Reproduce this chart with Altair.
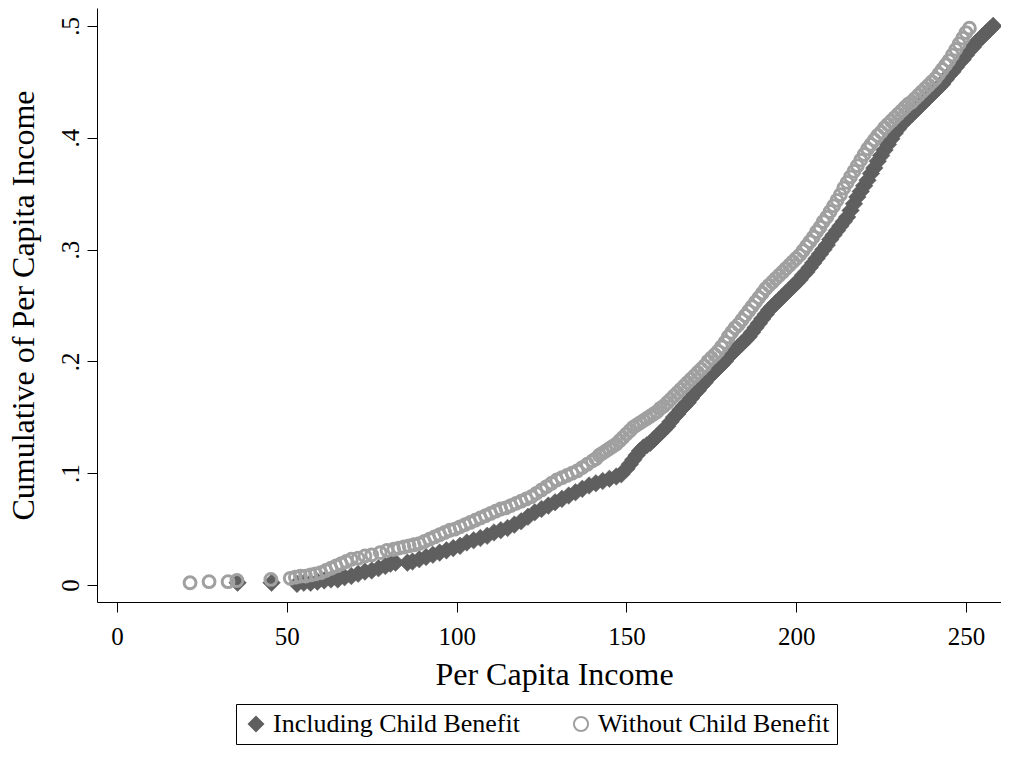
import altair as alt
import pandas as pd

SERIES = ["Including Child Benefit", "Without Child Benefit"]

incl_x = [35.5, 45.5,
          53.0, 55.0, 57.0, 59.0, 61.0, 63.0, 65.0, 67.0, 69.0, 71.0, 73.0, 75.0, 77.0, 79.0, 80.5, 82.0,
          85.5, 87.0, 89.0, 91.0, 93.0, 95.0, 97.0, 99.0, 101.0, 103.0, 105.0, 107.0, 109.0, 111.0, 113.0,
          115.0, 117.0, 119.0, 121.0, 123.0, 125.0, 127.0, 129.0, 131.0, 133.0, 135.0, 137.0, 139.0, 141.0,
          143.0, 145.0, 147.0, 148.5, 150.0, 151.0, 152.0, 153.0, 154.0, 155.0, 156.0, 157.0, 158.0, 159.0,
          160.0, 161.0, 162.0, 163.0, 164.0, 165.0, 166.0, 167.0, 168.0, 169.0, 170.0, 171.0, 172.0, 173.0,
          174.0, 175.0, 176.0, 177.0, 178.0, 179.0, 180.0, 181.0, 182.0, 183.0, 184.0, 185.0, 186.0, 187.0,
          188.0, 189.0, 190.0, 191.0, 192.0, 193.0, 194.0, 195.0, 196.0, 197.0, 198.0, 199.0, 200.0, 201.0,
          202.0, 203.0, 204.0, 205.0, 206.0, 207.0, 208.0, 209.0, 210.0, 211.0, 212.0, 213.0, 214.0, 215.0,
          216.0, 217.0, 218.0, 219.0, 220.0, 221.0, 222.0, 223.0, 224.0, 225.0, 226.0, 227.0, 228.0, 229.0,
          230.0, 231.0, 232.0, 233.0, 234.0, 235.0, 236.0, 237.0, 238.0, 239.0, 240.0, 241.0, 242.0, 243.0,
          244.0, 245.0, 246.0, 247.0, 248.0, 249.0, 250.0, 251.0, 252.0, 253.0, 254.0, 255.0, 256.0, 257.0,
          258.0]
incl_y = [0.002, 0.002,
          0.001, 0.002, 0.002, 0.003, 0.004, 0.005, 0.005, 0.007, 0.008, 0.010, 0.012, 0.013, 0.015, 0.017, 0.019, 0.020,
          0.020, 0.021, 0.023, 0.025, 0.027, 0.029, 0.031, 0.033, 0.035, 0.038, 0.040, 0.042, 0.044, 0.047, 0.049,
          0.051, 0.054, 0.057, 0.061, 0.065, 0.068, 0.071, 0.074, 0.077, 0.080, 0.083, 0.086, 0.089, 0.091,
          0.093, 0.095, 0.097, 0.099, 0.104, 0.108, 0.112, 0.116, 0.120, 0.123, 0.125, 0.127, 0.130, 0.133,
          0.136, 0.139, 0.142, 0.146, 0.150, 0.153, 0.157, 0.160, 0.163, 0.167, 0.171, 0.174, 0.178, 0.181,
          0.185, 0.188, 0.191, 0.194, 0.197, 0.200, 0.204, 0.207, 0.210, 0.213, 0.216, 0.219, 0.222, 0.226,
          0.230, 0.234, 0.238, 0.242, 0.246, 0.249, 0.252, 0.255, 0.258, 0.261, 0.264, 0.267, 0.270, 0.273,
          0.277, 0.280, 0.284, 0.288, 0.292, 0.296, 0.300, 0.304, 0.309, 0.313, 0.317, 0.321, 0.325, 0.329,
          0.335, 0.341, 0.347, 0.352, 0.357, 0.362, 0.368, 0.373, 0.379, 0.384, 0.389, 0.394, 0.399, 0.404,
          0.408, 0.412, 0.415, 0.418, 0.421, 0.424, 0.427, 0.430, 0.433, 0.436, 0.439, 0.442, 0.445, 0.448,
          0.452, 0.456, 0.459, 0.463, 0.467, 0.470, 0.474, 0.478, 0.481, 0.485, 0.488, 0.491, 0.494, 0.497,
          0.500]

without_x = [21.5, 27.1, 32.7, 35.3, 45.3,
             51.0, 52.5, 54.0, 55.5, 57.0, 58.5, 60.0, 61.5, 63.0, 64.5, 66.0, 67.5, 69.0, 71.0, 73.0, 75.0,
             77.5, 79.5, 81.5, 83.0, 84.5, 86.0, 87.5, 89.0, 90.5, 92.0, 93.5, 95.0, 96.5, 98.0, 99.5, 101.0,
             102.5, 104.0, 105.5, 107.0, 108.5, 110.0, 111.5, 113.0, 114.5, 116.0, 117.5, 119.0, 120.5, 122.0,
             123.5, 125.0, 126.5, 128.0, 129.5, 131.0, 132.5, 134.0, 135.5, 137.0, 138.5, 140.0, 141.0, 142.0,
             143.0, 144.0, 145.0, 146.0, 147.0, 148.0, 149.0, 150.0, 151.0, 152.0, 153.0, 154.0, 155.0, 156.0,
             157.0, 158.0, 159.0, 160.0, 161.0, 162.0, 163.0, 164.0, 165.0, 166.0, 167.0, 168.0, 169.0, 170.0,
             171.0, 172.0, 173.0, 174.0, 175.0, 176.0, 177.0, 178.0, 179.0, 180.0, 181.0, 182.0, 183.0, 184.0,
             185.0, 186.0, 187.0, 188.0, 189.0, 190.0, 191.0, 192.0, 193.0, 194.0, 195.0, 196.0, 197.0, 198.0,
             199.0, 200.0, 201.0, 202.0, 203.0, 204.0, 205.0, 206.0, 207.0, 208.0, 209.0, 210.0, 211.0, 212.0,
             213.0, 214.0, 215.0, 216.0, 217.0, 218.0, 219.0, 220.0, 221.0, 222.0, 223.0, 224.0, 225.0, 226.0,
             227.0, 228.0, 229.0, 230.0, 231.0, 232.0, 233.0, 234.0, 235.0, 236.0, 237.0, 238.0, 239.0, 240.0,
             241.0, 242.0, 243.0, 244.0, 245.0, 246.0, 247.0, 248.0, 249.0, 250.0, 251.0]
without_y = [0.002, 0.003, 0.003, 0.004, 0.005,
             0.006, 0.007, 0.008, 0.008, 0.009, 0.010, 0.011, 0.013, 0.015, 0.017, 0.019, 0.021, 0.023, 0.024, 0.026, 0.027,
             0.029, 0.031, 0.032, 0.033, 0.034, 0.035, 0.036, 0.037, 0.039, 0.041, 0.043, 0.045, 0.047, 0.049, 0.050, 0.052,
             0.054, 0.056, 0.058, 0.060, 0.062, 0.064, 0.066, 0.068, 0.069, 0.071, 0.073, 0.075, 0.077, 0.079,
             0.082, 0.085, 0.088, 0.091, 0.094, 0.096, 0.098, 0.100, 0.102, 0.105, 0.108, 0.111, 0.113, 0.116,
             0.118, 0.120, 0.122, 0.124, 0.126, 0.129, 0.132, 0.135, 0.138, 0.141, 0.143, 0.145, 0.147, 0.149,
             0.151, 0.153, 0.155, 0.158, 0.160, 0.163, 0.166, 0.169, 0.172, 0.175, 0.178, 0.181, 0.184, 0.187,
             0.190, 0.193, 0.196, 0.200, 0.203, 0.206, 0.209, 0.213, 0.217, 0.222, 0.226, 0.230, 0.233, 0.237,
             0.241, 0.245, 0.249, 0.253, 0.257, 0.261, 0.265, 0.268, 0.271, 0.274, 0.277, 0.280, 0.283, 0.286,
             0.289, 0.292, 0.295, 0.299, 0.303, 0.307, 0.311, 0.316, 0.320, 0.325, 0.329, 0.334, 0.339, 0.344,
             0.349, 0.355, 0.360, 0.365, 0.370, 0.375, 0.380, 0.385, 0.390, 0.394, 0.398, 0.402, 0.405, 0.409,
             0.412, 0.415, 0.418, 0.421, 0.424, 0.427, 0.430, 0.432, 0.435, 0.438, 0.441, 0.444, 0.447, 0.450,
             0.453, 0.457, 0.461, 0.465, 0.469, 0.474, 0.479, 0.484, 0.489, 0.494, 0.498]

x_ticks = [0, 50, 100, 150, 200, 250]
y_ticks = [0, 0.1, 0.2, 0.3, 0.4, 0.5]

rows = []
for xv, yv in zip(incl_x, incl_y):
    rows.append({"income": xv, "cum": yv, "series": SERIES[0]})
for xv, yv in zip(without_x, without_y):
    rows.append({"income": xv, "cum": yv, "series": SERIES[1]})
df = pd.DataFrame(rows)

FONT = "Liberation Serif"
DARK = "#5f5f5f"
LIGHT = "#a0a0a0"

legend = alt.Legend(
    title=None,
    orient="none",
    legendX=139,
    legendY=696,
    direction="horizontal",
    padding=7,
    strokeColor="black",
    fillColor="white",
    labelFont=FONT,
    labelFontSize=26,
    labelColor="black",
    labelLimit=0,
    labelOffset=4,
    columnPadding=48,
    gridAlign="all",
    symbolSize=200,
    symbolStrokeWidth=2,
)

x_enc = alt.X(
    "income:Q",
    scale=alt.Scale(domain=[-5.9, 260.3], nice=False, zero=False),
    axis=alt.Axis(
        values=x_ticks,
        title="Per Capita Income",
        labelFont=FONT,
        labelFontSize=25,
        labelColor="black",
        labelBaseline="alphabetic",
        labelPadding=32,
        labelFlush=False,
        tickSize=10,
        tickColor="black",
        domainColor="black",
        grid=False,
        titleFont=FONT,
        titleFontSize=32,
        titleFontWeight="normal",
        titleColor="black",
        titleBaseline="alphabetic",
        titleY=82,
        titleX=457,
        titleAlign="center",
    ),
)
y_enc = alt.Y(
    "cum:Q",
    scale=alt.Scale(domain=[-0.0152, 0.516], nice=False, zero=False),
    axis=alt.Axis(
        values=y_ticks,
        title="Cumulative of Per Capita Income",
        labelExpr="datum.value == 0 ? '0' : replace(format(datum.value, '.1f'), '0.', '.')",
        labelFont=FONT,
        labelFontSize=25,
        labelColor="black",
        labelAngle=270,
        labelAlign="center",
        labelBaseline="alphabetic",
        labelPadding=9,
        labelFlush=False,
        tickSize=10,
        tickColor="black",
        domainColor="black",
        grid=False,
        titleFont=FONT,
        titleFontSize=32,
        titleFontWeight="normal",
        titleColor="black",
        titleAngle=270,
        titleBaseline="alphabetic",
        titleAlign="center",
        titleX=-64,
        titleY=297,
    ),
)
shape_enc = alt.Shape("series:N", scale=alt.Scale(domain=SERIES, range=["diamond", "circle"]), legend=legend)
fill_enc = alt.Fill("series:N", scale=alt.Scale(domain=SERIES, range=[DARK, "transparent"]), legend=legend)
stroke_enc = alt.Stroke("series:N", scale=alt.Scale(domain=SERIES, range=[DARK, LIGHT]), legend=legend)

base = alt.Chart(df)

incl_layer = (
    base.transform_filter(alt.datum.series == SERIES[0])
    .mark_point(opacity=1, size=310, strokeWidth=0.5)
    .encode(x=x_enc, y=y_enc, shape=shape_enc, fill=fill_enc, stroke=stroke_enc)
)
without_layer = (
    base.transform_filter(alt.datum.series == SERIES[1])
    .mark_point(opacity=1, size=140, strokeWidth=3)
    .encode(x=x_enc, y=y_enc, shape=shape_enc, fill=fill_enc, stroke=stroke_enc)
)

chart = (
    alt.layer(incl_layer, without_layer)
    .properties(
        width=904,
        height=594,
        autosize=alt.AutoSizeParams(type="none"),
        padding={"left": 89, "top": 0, "right": 0, "bottom": 147},
    )
    .configure_view(stroke=None)
)

chart.save("out.html", embed_options={"renderer": "svg", "actions": False})
